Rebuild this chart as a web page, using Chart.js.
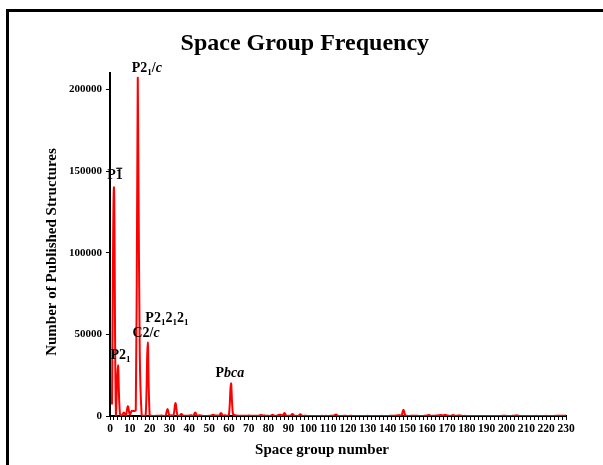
<!DOCTYPE html>
<html>
<head>
<meta charset="utf-8">
<script src="https://cdn.jsdelivr.net/npm/chart.js@4"></script>
<style>
  html, body { margin: 0; padding: 0; background: #fff; overflow: hidden; }
  #wrap { position: relative; width: 603px; height: 465px; overflow: hidden; }
  #frame { position: absolute; left: 6px; top: 9px; width: 700px; height: 600px; border: 3px solid #000; }
  canvas { position: absolute; left: 0; top: 0; }
</style>
</head>
<body>
<div id="wrap">
  <div id="frame"></div>
  <canvas id="sg-chart" width="603" height="465"></canvas>
</div>
<script>
// number of published structures for space groups 1..230
const structureCounts = [
  7000, 140000, 600, 31000, 1500, 300, 2200, 400, 6000, 900,
  3200, 3000, 3500, 207000, 40000, 100, 200, 300, 45000, 600,
  100, 50, 100, 100, 100, 300, 50, 100, 4300, 300,
  400, 300, 8000, 600, 100, 1200, 200, 200, 100, 300,
  400, 100, 2200, 200, 400, 300, 50, 50, 50, 100,
  200, 800, 300, 300, 200, 1800, 300, 400, 200, 900,
  20000, 1300, 500, 300, 100, 100, 100, 100, 100, 300,
  100, 200, 200, 200, 100, 600, 300, 300, 100, 100,
  100, 800, 100, 200, 600, 800, 300, 1800, 100, 100,
  200, 1200, 100, 100, 100, 1000, 100, 100, 100, 50,
  50, 50, 50, 50, 50, 50, 100, 50, 100, 50,
  100, 100, 300, 900, 50, 50, 50, 100, 100, 50,
  100, 100, 50, 50, 50, 50, 50, 50, 50, 100,
  50, 50, 50, 50, 50, 50, 100, 50, 50, 50,
  100, 100, 100, 200, 300, 500, 200, 3800, 200, 100,
  50, 200, 100, 200, 100, 50, 50, 50, 200, 300,
  600, 50, 200, 200, 300, 400, 600, 300, 700, 400,
  100, 100, 600, 200, 200, 300, 200, 50, 100, 50,
  50, 50, 50, 50, 50, 50, 50, 50, 50, 50,
  50, 50, 50, 50, 50, 50, 50, 100, 200, 50,
  50, 50, 100, 100, 400, 100, 50, 50, 50, 50,
  50, 50, 50, 50, 100, 50, 50, 50, 50, 100,
  50, 50, 50, 50, 100, 200, 100, 100, 100, 300,
];
const yTicks = [0, 50000, 100000, 150000, 200000];
const xTickStep = 10;

// peak labels: text runs and anchor in data units
const peakLabels = [
  { x: 2.5, y: 148000, runs: [{ t: "P" }, { t: "1", bar: true }] },
  { x: 18.6, y: 213400, runs: [{ t: "P2" }, { t: "1", sub: true }, { t: "/" }, { t: "c", it: true }] },
  { x: 28.7, y: 60900, runs: [{ t: "P2" }, { t: "1", sub: true }, { t: "2" }, { t: "1", sub: true }, { t: "2" }, { t: "1", sub: true }] },
  { x: 18.2, y: 51400, runs: [{ t: "C2/" }, { t: "c", it: true }] },
  { x: 5.3, y: 37900, runs: [{ t: "P2" }, { t: "1", sub: true }] },
  { x: 60.5, y: 26900, runs: [{ t: "P" }, { t: "bca", it: true }] },
];

const SERIF = "'Liberation Serif', 'Times New Roman', serif";
Chart.defaults.font.family = SERIF;
Chart.defaults.color = "#000";

const points = structureCounts.map((v, i) => ({ x: i + 1, y: v }));

const peakLabelPlugin = {
  id: "peakLabels",
  afterDraw(chart) {
    const ctx = chart.ctx;
    const xs = chart.scales.x;
    const ys = chart.scales.y;
    ctx.save();
    ctx.fillStyle = "#000";
    ctx.strokeStyle = "#000";

    // axis titles (Excel put them slightly off-centre)
    ctx.font = "bold 15px " + SERIF;
    ctx.textAlign = "center";
    ctx.textBaseline = "middle";
    ctx.fillText("Space group number", 322, 450);
    ctx.save();
    ctx.translate(52, 252);
    ctx.rotate(-Math.PI / 2);
    ctx.fillText("Number of Published Structures", 0, 0);
    ctx.restore();

    peakLabels.forEach((lab) => {
      const cx = xs.getPixelForValue(lab.x);
      const cy = ys.getPixelForValue(lab.y);
      const fontFor = (r) => (r.it ? "italic " : "") + "bold " + (r.sub ? 9 : 14) + "px " + SERIF;
      let total = 0;
      lab.runs.forEach((r) => {
        ctx.font = fontFor(r);
        r.w = ctx.measureText(r.t).width;
        total += r.w;
      });
      let x = cx - total / 2;
      const base = cy + 5;
      ctx.textAlign = "left";
      ctx.textBaseline = "alphabetic";
      lab.runs.forEach((r) => {
        ctx.font = fontFor(r);
        ctx.fillText(r.t, x, base + (r.sub ? 3 : 0));
        if (r.bar) {
          ctx.lineWidth = 1.2;
          ctx.beginPath();
          ctx.moveTo(x + 0.5, base - 11);
          ctx.lineTo(x + r.w - 0.5, base - 11);
          ctx.stroke();
        }
        x += r.w;
      });
    });
    ctx.restore();
  },
};

const ctx = document.getElementById("sg-chart").getContext("2d");
new Chart(ctx, {
  type: "line",
  data: {
    datasets: [
      {
        data: points,
        borderColor: "#ff0000",
        borderWidth: 2,
        pointRadius: 0,
        tension: 0.4,
        fill: false,
      },
    ],
  },
  options: {
    responsive: false,
    animation: false,
    layout: { padding: { left: 43.6, top: 29.6, right: 37, bottom: 6.6 } },
    plugins: {
      legend: { display: false },
      tooltip: { enabled: false },
      title: {
        display: true,
        text: "Space Group Frequency",
        color: "#000",
        font: { size: 24, weight: "bold" },
        padding: { top: 0, bottom: 14.6 },
      },
    },
    scales: {
      x: {
        type: "linear",
        min: 0,
        max: 230,
        border: { color: "#000", width: 2 },
        grid: { drawOnChartArea: false, tickLength: 4, color: "#000" },
        ticks: {
          stepSize: 2,
          autoSkip: false,
          maxRotation: 0,
          padding: 2,
          font: { size: 11.5, weight: "bold" },
          callback: (v) => (v % xTickStep === 0 ? v : ""),
        },
        afterFit: (s) => { s.height = 42.4; },
      },
      y: {
        min: 0,
        max: 210000,
        border: { color: "#000", width: 2 },
        grid: { drawOnChartArea: false, tickLength: 4, color: "#000" },
        ticks: {
          stepSize: 50000,
          padding: 4,
          font: { size: 11, weight: "bold" },
          callback: (v) => String(v),
        },
        afterBuildTicks: (s) => {
          s.ticks = yTicks.map((v) => ({ value: v }));
        },
        afterFit: (s) => { s.width = 66.4; },
      },
    },
  },
  plugins: [peakLabelPlugin],
});
</script>
</body>
</html>
